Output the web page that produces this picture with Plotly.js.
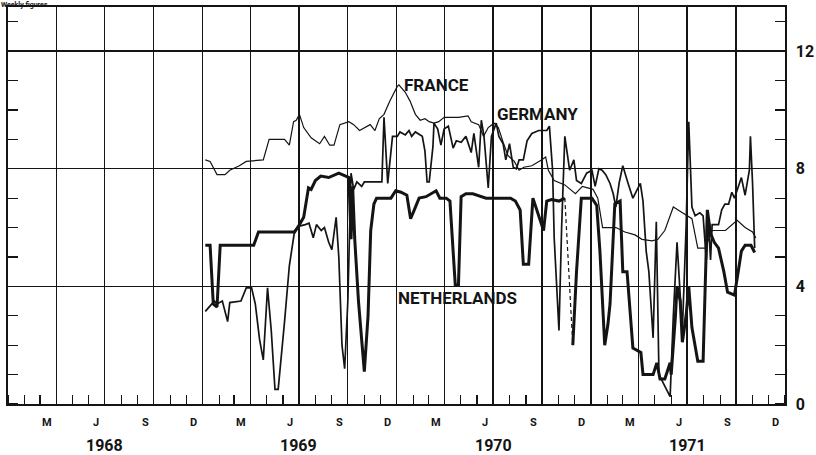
<!DOCTYPE html>
<html><head><meta charset="utf-8">
<script src="https://cdn.plot.ly/plotly-3.0.1.min.js"></script>
<style>html,body{margin:0;padding:0;background:#fff}</style>
</head><body>
<div id="chart" style="width:816px;height:455px"></div>
<script>
// ---------- data ----------
const years = [1968, 1969, 1970, 1971];
const monthLetters = ['M', 'J', 'S', 'D'];
const monthNums = [3, 6, 9, 12];
const gridMonths = [1, 4, 7, 10];
const yTickValues = [0, 4, 8, 12];
const yTickLabels = ['0', '4', '8', '12'];
const seriesNames = ['FRANCE', 'GERMANY', 'NETHERLANDS'];

const frDates = ['1969-01-06','1969-01-15','1969-01-28','1969-02-12','1969-02-21','1969-03-11','1969-03-24','1969-04-25','1969-05-06','1969-06-04','1969-06-13','1969-06-21','1969-06-26','1969-07-02','1969-07-10','1969-07-24','1969-08-09','1969-08-18','1969-08-28','1969-09-05','1969-09-16','1969-10-03','1969-10-12','1969-10-23','1969-11-12','1969-11-21','1969-11-29','1969-12-08','1969-12-19','1970-01-02','1970-01-05','1970-01-17','1970-01-26','1970-02-05','1970-02-14','1970-02-23','1970-03-03','1970-03-12','1970-03-21','1970-03-31','1970-04-27','1970-05-15','1970-05-21','1970-06-04','1970-06-13','1970-06-22','1970-07-03','1970-07-11','1970-07-20','1970-07-29','1970-08-10','1970-08-19','1970-08-28','1970-09-12','1970-09-30','1970-10-08','1970-10-13','1970-10-24','1970-11-13','1970-12-03','1970-12-16','1971-01-05','1971-01-14','1971-01-23','1971-02-17','1971-03-06','1971-03-25','1971-04-07','1971-04-26','1971-05-07','1971-05-20','1971-06-05','1971-06-14','1971-06-27','1971-07-10','1971-07-21','1971-08-04','1971-08-17','1971-09-11','1971-10-03','1971-10-18','1971-11-01','1971-11-07'];
const frValues = [8.3,8.25,7.8,7.8,7.95,8.1,8.25,8.3,9.0,9.0,8.8,9.6,9.65,9.85,9.4,9.05,8.85,9.1,8.8,8.8,9.5,9.6,9.5,9.3,9.5,9.3,9.7,9.85,10.3,10.8,10.85,10.6,10.3,9.85,9.65,9.7,9.6,9.55,9.6,9.75,9.75,9.8,9.6,9.5,9.1,9.4,9.55,9.4,8.9,8.45,8.25,7.95,8.05,8.1,8.3,8.4,7.95,7.6,7.45,7.15,7.4,7.3,7.0,6.0,6.0,5.85,5.75,5.6,5.55,5.6,5.9,6.7,6.6,6.45,6.3,5.3,5.3,5.9,5.9,6.25,6.0,5.85,5.65];

const deDates = ['1969-01-06','1969-01-23','1969-01-28','1969-02-07','1969-02-17','1969-02-21','1969-03-14','1969-03-24','1969-04-03','1969-04-10','1969-04-18','1969-04-25','1969-05-03','1969-05-10','1969-05-17','1969-05-23','1969-06-04','1969-06-13','1969-06-23','1969-07-02','1969-07-13','1969-07-20','1969-07-28','1969-08-03','1969-08-12','1969-08-18','1969-08-26','1969-09-01','1969-09-09','1969-09-14','1969-09-20','1969-09-25','1969-10-01','1969-10-07','1969-10-12','1969-10-18','1969-10-27','1969-11-01','1969-11-15','1969-12-04','1969-12-08','1969-12-15','1969-12-24','1970-01-02','1970-01-07','1970-01-17','1970-01-24','1970-01-29','1970-02-05','1970-02-18','1970-02-23','1970-02-27','1970-03-03','1970-03-10','1970-03-12','1970-03-19','1970-03-25','1970-03-31','1970-04-08','1970-04-17','1970-04-23','1970-05-02','1970-05-11','1970-05-21','1970-05-26','1970-06-04','1970-06-09','1970-06-14','1970-06-22','1970-06-28','1970-07-07','1970-07-12','1970-07-20','1970-07-25','1970-08-01','1970-08-08','1970-08-14','1970-08-19','1970-08-27','1970-09-03','1970-09-12','1970-09-25','1970-10-10','1970-10-15','1970-10-21','1970-10-24','1970-11-02','1970-11-07','1970-11-13','1970-11-19','1970-11-22','1970-11-30','1970-12-05','1970-12-14','1970-12-24','1971-01-03','1971-01-09','1971-01-16','1971-01-22','1971-01-29','1971-02-06','1971-02-12','1971-02-17','1971-02-23','1971-03-02','1971-03-12','1971-03-21','1971-04-04','1971-04-09','1971-04-15','1971-04-20','1971-04-28','1971-05-04','1971-05-09','1971-05-17','1971-05-30','1971-06-05','1971-06-12','1971-06-22','1971-06-29','1971-07-04','1971-07-10','1971-07-16','1971-07-25','1971-07-31','1971-08-06','1971-08-10','1971-08-14','1971-08-17','1971-08-29','1971-09-04','1971-09-10','1971-09-17','1971-09-23','1971-09-28','1971-10-05','1971-10-11','1971-10-18','1971-10-26','1971-10-28','1971-11-01','1971-11-05'];
const deValues = [3.15,3.5,3.4,3.5,2.8,3.45,3.5,3.95,3.95,3.4,2.2,1.5,3.95,2.5,0.5,0.5,2.8,4.7,5.9,6.05,6.1,6.15,5.65,6.1,5.9,6.0,5.5,5.25,6.35,5.0,2.0,1.2,3.5,7.85,7.3,7.55,7.4,7.55,7.55,7.55,9.75,7.5,9.1,9.1,9.25,9.15,9.3,9.1,9.25,9.1,8.6,7.55,7.55,8.75,9.55,9.35,8.8,9.35,9.45,8.7,8.95,8.9,9.1,8.55,9.2,8.05,9.65,9.1,7.35,9.1,9.55,9.1,8.85,8.3,8.85,8.05,8.0,8.3,8.3,8.95,9.2,9.3,9.3,9.45,7.95,5.65,2.5,6.0,9.1,8.4,7.95,8.3,7.6,7.5,7.85,7.95,7.4,8.0,7.95,7.8,7.5,7.15,6.7,7.5,8.1,7.5,7.0,7.5,6.9,5.2,4.5,2.25,6.2,1.0,0.7,0.25,3.0,5.5,2.5,6.0,9.6,6.7,6.4,6.5,6.4,4.9,6.2,4.9,6.1,6.1,6.6,6.8,6.8,7.2,7.0,7.4,7.7,7.1,7.95,9.1,7.5,5.3];

const nlDates = ['1969-01-06','1969-01-15','1969-01-21','1969-01-28','1969-02-03','1969-04-07','1969-04-16','1969-06-23','1969-07-02','1969-07-10','1969-07-19','1969-07-24','1969-08-01','1969-08-11','1969-08-26','1969-09-14','1969-09-27','1969-10-03','1969-10-07','1969-10-10','1969-10-14','1969-10-21','1969-11-01','1969-11-08','1969-11-13','1969-11-19','1969-11-24','1969-12-08','1969-12-21','1969-12-30','1970-01-09','1970-01-20','1970-01-27','1970-02-03','1970-02-12','1970-02-25','1970-03-07','1970-03-16','1970-03-23','1970-04-04','1970-04-11','1970-04-21','1970-04-27','1970-05-02','1970-05-11','1970-05-24','1970-06-18','1970-07-14','1970-08-03','1970-08-12','1970-08-21','1970-08-27','1970-09-06','1970-09-14','1970-09-21','1970-09-30','1970-10-04','1970-10-10','1970-10-19','1970-11-02','1970-11-13','1970-11-20','1970-11-28','1970-12-05','1970-12-14','1970-12-24','1971-01-03','1971-01-12','1971-01-18','1971-01-27','1971-02-02','1971-02-06','1971-02-15','1971-02-25','1971-03-02','1971-03-10','1971-03-21','1971-04-05','1971-04-09','1971-04-28','1971-05-05','1971-05-11','1971-05-20','1971-05-30','1971-06-01','1971-06-09','1971-06-12','1971-06-18','1971-06-22','1971-06-29','1971-07-04','1971-07-10','1971-07-21','1971-07-31','1971-08-08','1971-08-14','1971-08-21','1971-08-29','1971-09-08','1971-09-15','1971-09-28','1971-10-05','1971-10-11','1971-10-18','1971-10-29','1971-11-05'];
const nlValues = [5.4,5.4,3.4,3.3,5.4,5.4,5.85,5.85,6.1,6.35,7.35,7.3,7.6,7.75,7.7,7.85,7.75,7.7,5.6,7.4,5.6,3.5,1.1,3.0,5.9,6.8,7.0,7.0,7.0,7.25,7.2,7.1,6.3,6.6,7.0,7.05,7.15,7.25,7.0,7.0,6.9,4.05,4.05,7.05,7.15,7.15,7.0,7.0,7.0,6.9,6.6,4.75,4.75,7.0,6.6,6.1,5.9,6.9,6.95,6.9,7.0,null,2.0,4.5,7.0,7.0,7.0,6.75,5.2,2.0,2.7,3.4,6.8,6.9,4.5,4.5,1.9,1.75,1.0,1.0,1.4,0.85,0.85,1.4,1.0,3.0,4.0,3.5,2.1,3.0,4.0,2.6,1.45,1.45,6.6,5.8,5.5,5.3,4.5,3.8,3.7,4.5,5.2,5.4,5.4,5.15];

// ---------- derived ----------
const pad = n => (n < 10 ? '0' : '') + n;
const gridDates = [];
years.forEach(y => gridMonths.forEach(m => gridDates.push(y + '-' + pad(m) + '-01')));
const monthTickDates = [], monthTickText = [];
years.forEach(y => monthNums.forEach((m, i) => { monthTickDates.push(y + '-' + pad(m) + '-15'); monthTickText.push(monthLetters[i]); }));

// dashed connectors across missing Netherlands values
const nlGapX = [], nlGapY = [];
nlValues.forEach((v, i) => {
  if (v === null && i > 0 && i < nlValues.length - 1) {
    nlGapX.push(nlDates[i - 1], nlDates[i + 1], null);
    nlGapY.push(nlValues[i - 1], nlValues[i + 1], null);
  }
});

const INK = '#141414';
const FONT = 'Roboto, "Liberation Sans", Arial, sans-serif';

const traces = [
  {x: frDates, y: frValues, name: seriesNames[0], mode: 'lines', line: {color: INK, width: 1.2}},
  {x: deDates, y: deValues, name: seriesNames[1], mode: 'lines', line: {color: INK, width: 1.7}},
  {x: nlDates, y: nlValues, name: seriesNames[2], mode: 'lines', connectgaps: false, line: {color: INK, width: 3}},
  {x: nlGapX, y: nlGapY, name: seriesNames[2] + ' (gap)', mode: 'lines', connectgaps: false, line: {color: INK, width: 1.2, dash: '4px,3px'}}
];

const annotations = [];
monthTickDates.forEach((d, i) => annotations.push({
  x: d, xref: 'x', y: 0, yref: 'paper', xanchor: 'center', yanchor: 'middle', yshift: -18,
  text: '<b>' + monthTickText[i] + '</b>', showarrow: false, font: {family: FONT, size: 11, color: INK}
}));
years.forEach(y => annotations.push({
  x: y + '-07-01', xref: 'x', y: 0, yref: 'paper', xanchor: 'center', yanchor: 'middle', yshift: -41,
  text: '<b>' + y + '</b>', showarrow: false, font: {family: FONT, size: 16, color: INK}
}));
const labelPos = [[0.551, 0.803], [0.682, 0.730], [0.579, 0.267]];
seriesNames.forEach((n, i) => annotations.push({
  x: labelPos[i][0], y: labelPos[i][1], xref: 'paper', yref: 'paper',
  xanchor: 'center', yanchor: 'middle',
  text: '<b>' + n + '</b>', showarrow: false,
  font: {family: FONT, size: 17, color: INK}
}));
annotations.push({
  x: 0, y: 1, xref: 'paper', yref: 'paper', xanchor: 'left', yanchor: 'top', xshift: -8, yshift: 7,
  borderpad: 0, text: '<b>Weekly figures</b>', showarrow: false, font: {family: FONT, size: 7, color: INK}
});

const layout = {
  width: 816, height: 455,
  margin: {l: 8, r: 31, t: 7, b: 51, pad: 0},
  paper_bgcolor: '#fff', plot_bgcolor: '#fff',
  showlegend: false, hovermode: false,
  xaxis: {
    type: 'date', range: ['1968-01-01', '1972-01-01'],
    tickmode: 'array', tickvals: gridDates, showticklabels: false, ticks: '',
    showgrid: true, gridcolor: INK, gridwidth: 1.3,
    showline: true, linecolor: INK, linewidth: 1.6, mirror: true, zeroline: false,
    minor: {dtick: 'M1', tick0: '1968-01-01', ticks: 'inside', ticklen: 9, tickwidth: 1.2, tickcolor: INK, showgrid: false}
  },
  yaxis: {
    range: [0, 13.5], side: 'right',
    tickmode: 'array', tickvals: yTickValues, ticktext: yTickLabels.map(t => '<b>' + t + '</b>'), ticks: '',
    ticklabelstandoff: 6,
    tickfont: {family: FONT, size: 16, color: INK},
    showgrid: true, gridcolor: INK, gridwidth: 1.3, zeroline: false,
    showline: true, linecolor: INK, linewidth: 1.6, mirror: 'ticks',
    minor: {dtick: 1, tick0: 0, ticks: 'inside', ticklen: 10, tickwidth: 1.2, tickcolor: INK, showgrid: false}
  },
  annotations: annotations
};

Plotly.newPlot('chart', traces, layout, {staticPlot: true, displayModeBar: false});
</script>
</body></html>
